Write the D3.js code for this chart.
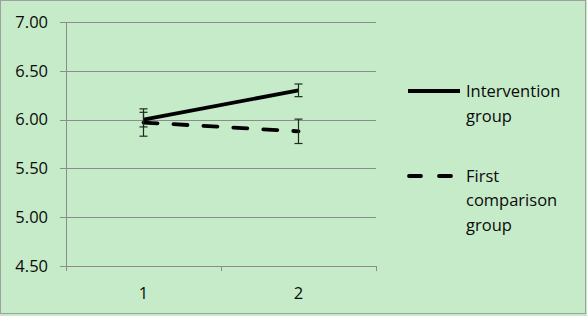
<!DOCTYPE html>
<html>
<head>
<meta charset="utf-8">
<script src="https://cdn.jsdelivr.net/npm/d3@7"></script>
<style>
  body { margin: 0; background: #c6ebc9; }
  text { font-family: "Open Sans", Lato, sans-serif; fill: #0a0a0a; }
</style>
</head>
<body>
<div id="chart"></div>
<script>
// datos
const categories = ["1", "2"];
const intervention = [6.00, 6.30];
const interventionErr = [0.075, 0.065];
const comparison = [5.97, 5.88];
const comparisonErr = [0.14, 0.125];
const yTicks = [4.5, 5.0, 5.5, 6.0, 6.5, 7.0];

const width = 587, height = 316;
const margin = {top: 22, right: 211, bottom: 50, left: 66};

const svg = d3.select("#chart").append("svg")
    .attr("width", width)
    .attr("height", height);

// fondo y borde
svg.append("rect")
    .attr("x", 0.5).attr("y", 0.5)
    .attr("width", width - 2).attr("height", height - 3)
    .attr("fill", "#c6ebc9")
    .attr("stroke", "#a0a0a0");

const x = d3.scaleBand()
    .domain(categories)
    .range([margin.left, width - margin.right]);

const y = d3.scaleLinear()
    .domain([4.5, 7])
    .range([height - margin.bottom, margin.top]);

// lineas de cuadricula
svg.append("g")
    .selectAll("line")
    .data(yTicks)
    .join("line")
    .attr("x1", margin.left - 6)
    .attr("x2", width - margin.right)
    .attr("y1", d => Math.round(y(d)) + 0.5)
    .attr("y2", d => Math.round(y(d)) + 0.5)
    .attr("stroke", "#8c8c8c")
    .attr("stroke-width", 1);

// eje y
svg.append("line")
    .attr("x1", margin.left + 0.5).attr("x2", margin.left + 0.5)
    .attr("y1", margin.top).attr("y2", height - margin.bottom + 1)
    .attr("stroke", "#8c8c8c");

svg.append("g")
    .selectAll("text")
    .data(yTicks)
    .join("text")
    .attr("x", 48)
    .attr("y", d => y(d))
    .attr("dy", "0.35em")
    .attr("text-anchor", "end")
    .style("font-size", "16.5px")
    .text(d => d.toFixed(2));

// eje x: marcas en los bordes de las bandas
const xEdges = [margin.left, x("2"), width - margin.right];
svg.append("g")
    .selectAll("line")
    .data(xEdges)
    .join("line")
    .attr("x1", d => Math.round(d) + 0.5)
    .attr("x2", d => Math.round(d) + 0.5)
    .attr("y1", height - margin.bottom)
    .attr("y2", height - margin.bottom + 5)
    .attr("stroke", "#8c8c8c");

svg.append("g")
    .selectAll("text")
    .data(categories)
    .join("text")
    .attr("x", d => x(d) + x.bandwidth() / 2)
    .attr("y", height - margin.bottom + 27)
    .attr("dy", "0.35em")
    .attr("text-anchor", "middle")
    .style("font-size", "16.5px")
    .text(d => d);

const cx = d => x(d) + x.bandwidth() / 2;

const line = d3.line()
    .x((d, i) => cx(categories[i]))
    .y(d => y(d));

svg.append("path")
    .datum(comparison)
    .attr("d", line)
    .attr("fill", "none")
    .attr("stroke", "#000")
    .attr("stroke-width", 3.8)
    .attr("stroke-linecap", "round")
    .attr("stroke-dasharray", "14,16");

svg.append("path")
    .datum(intervention)
    .attr("d", line)
    .attr("fill", "none")
    .attr("stroke", "#000")
    .attr("stroke-width", 3.8);

// barras de error
function errorBars(values, errs) {
    const g = svg.append("g").attr("stroke", "#1e2a1e").attr("stroke-width", 1.2);
    values.forEach((v, i) => {
        const px = cx(categories[i]);
        const top = y(v + errs[i]), bot = y(v - errs[i]);
        g.append("line").attr("x1", px).attr("x2", px).attr("y1", top).attr("y2", bot);
        g.append("line").attr("x1", px - 4).attr("x2", px + 4).attr("y1", top).attr("y2", top);
        g.append("line").attr("x1", px - 4).attr("x2", px + 4).attr("y1", bot).attr("y2", bot);
    });
}
errorBars(comparison, comparisonErr);
errorBars(intervention, interventionErr);

// leyenda
const legend = svg.append("g");
legend.append("line")
    .attr("x1", 408).attr("x2", 460)
    .attr("y1", 91).attr("y2", 91)
    .attr("stroke", "#000").attr("stroke-width", 3.8);
legend.append("line")
    .attr("x1", 409).attr("x2", 455)
    .attr("y1", 176).attr("y2", 176)
    .attr("stroke", "#000").attr("stroke-width", 3.8)
    .attr("stroke-linecap", "round")
    .attr("stroke-dasharray", "12,18");

const legendLines = [
    ["Intervention", 91], ["group", 116],
    ["First", 176], ["comparison", 200], ["group", 225]
];
legend.selectAll("text")
    .data(legendLines)
    .join("text")
    .attr("x", 466)
    .attr("y", d => d[1])
    .attr("dy", "0.35em")
    .style("font-size", "16.5px")
    .text(d => d[0]);
</script>
</body>
</html>
